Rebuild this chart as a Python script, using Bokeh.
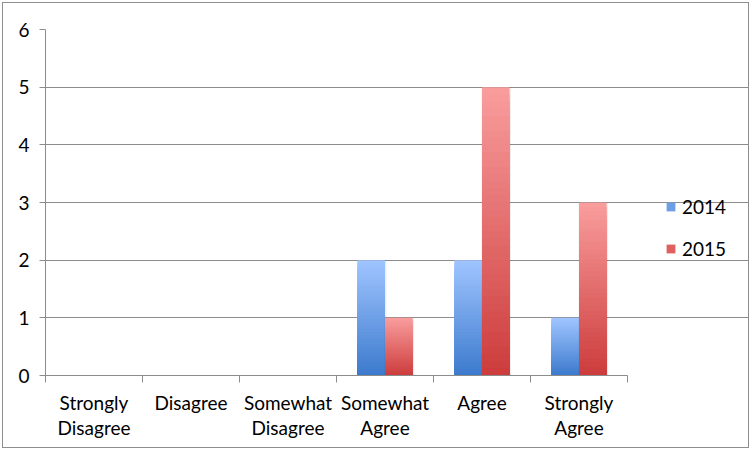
from bokeh.plotting import figure
from bokeh.models import FixedTicker, Legend, LegendItem, ColumnDataSource, Range1d
from bokeh.embed import file_html
from bokeh.resources import INLINE

categories = ["Strongly\nDisagree", "Disagree", "Somewhat\nDisagree", "Somewhat\nAgree", "Agree", "Strongly\nAgree"]
series_names = ["2014", "2015"]
values_2014 = [0, 0, 0, 2, 2, 1]
values_2015 = [0, 0, 0, 1, 5, 3]
y_ticks = [0, 1, 2, 3, 4, 5, 6]

FONT = "Lato"
GRID = "#8c8c8c"
N = len(categories)

# frame spans the plot area plus the legend area on its right; axes/grid bounded to the categories
FRAME_W, PLOT_W = 705, 582
p = figure(width=747, height=446, output_backend="svg", toolbar_location=None,
           x_range=Range1d(0, N * FRAME_W / PLOT_W), y_range=Range1d(0, 6),
           min_border_left=42, min_border_right=0, min_border_top=26, min_border_bottom=74,
           styles={"border": "1px solid #8e8e8e", "margin-left": "2px", "margin-top": "2px"})
p.outline_line_color = None
p.background_fill_color = "white"
p.border_fill_color = "white"

def lerp(c1, c2, t):
    a = [int(c1[i:i+2], 16) for i in (1, 3, 5)]
    b = [int(c2[i:i+2], 16) for i in (1, 3, 5)]
    return "#%02x%02x%02x" % tuple(round(a[j] + (b[j] - a[j]) * t) for j in range(3))

K = 40
bar_w = 0.284
specs = [(values_2014, -0.142, "#9fc4ff", "#3d7bcd", "#6d9ee6"),
         (values_2015, 0.142, "#f99c9c", "#cd3d3d", "#e06060")]
legend_items = []
for (vals, off, ctop, cbot, cmid), name in zip(specs, series_names):
    xs, tops, cols = [], [], []
    for i in range(K):
        for ci, v in enumerate(vals):
            if v <= 0:
                continue
            xs.append(ci + 0.5 + off)
            tops.append(v * (K - i) / K)
            cols.append(lerp(ctop, cbot, i / (K - 1)))
    # faint shadow behind each bar
    sx = [ci + 0.5 + off + 0.006 for ci, v in enumerate(vals) if v > 0]
    st = [v for v in vals if v > 0]
    p.vbar(x=sx, top=st, bottom=0, width=bar_w + 0.02, fill_color="black", fill_alpha=0.07, line_color=None)
    src = ColumnDataSource(dict(x=xs, top=tops, color=cols))
    p.vbar(x="x", top="top", bottom=0, width=bar_w, fill_color="color", line_color=None, source=src)
    # zero-height proxy used only for the legend swatch
    dummy = p.vbar(x=[0.5], top=[0], bottom=[0], width=bar_w, fill_color=cmid, line_color=None)
    legend_items.append(LegendItem(label=name, renderers=[dummy]))

legend = Legend(items=legend_items, location=(620, 106), orientation="vertical",
                glyph_width=11, glyph_height=11, label_height=42, spacing=0,
                label_standoff=6, padding=0, margin=0, border_line_color=None,
                background_fill_alpha=0, label_text_font=FONT, label_text_font_size="19px",
                label_text_color="black")
p.add_layout(legend, "center")

# y axis
p.yaxis.ticker = FixedTicker(ticks=y_ticks)
p.yaxis.axis_line_color = GRID
p.yaxis.major_tick_line_color = GRID
p.yaxis.major_tick_out = 6
p.yaxis.major_tick_in = 0
p.yaxis.minor_tick_line_color = None
p.yaxis.major_label_text_font = FONT
p.yaxis.major_label_text_font_size = "19px"
p.yaxis.major_label_text_color = "black"
p.yaxis.major_label_standoff = 10

# x axis
centers = [i + 0.5 for i in range(N)]
p.xaxis.bounds = (0, N)
p.xaxis.ticker = FixedTicker(ticks=centers, minor_ticks=list(range(N + 1)))
p.xaxis.major_label_overrides = {c: lab for c, lab in zip(centers, categories)}
p.xaxis.axis_line_color = GRID
p.xaxis.major_tick_line_color = None
p.xaxis.minor_tick_line_color = GRID
p.xaxis.minor_tick_out = 7
p.xaxis.minor_tick_in = 0
p.xaxis.major_label_text_font = FONT
p.xaxis.major_label_text_font_size = "19px"
p.xaxis.major_label_text_color = "black"
p.xaxis.major_label_standoff = 8
p.xaxis.major_label_text_line_height = 1.12

p.xgrid.grid_line_color = None
p.ygrid.ticker = FixedTicker(ticks=y_ticks)
p.ygrid.bounds = (0, N)
p.ygrid.grid_line_color = GRID

open("out.html", "w").write(file_html(p, INLINE))
